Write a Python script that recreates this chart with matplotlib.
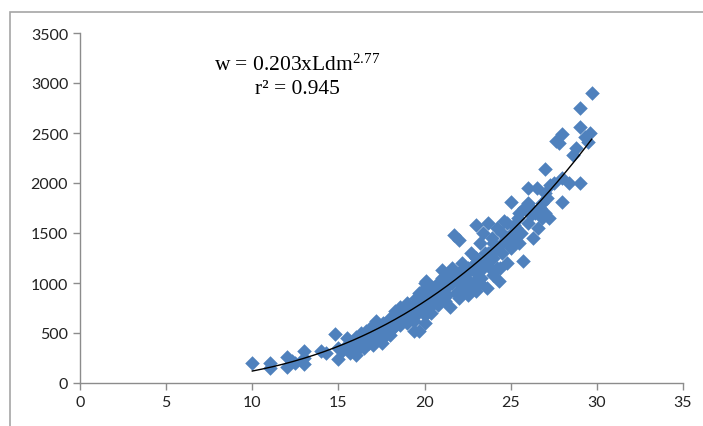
import numpy as np
import matplotlib
matplotlib.use("Agg")
import matplotlib.pyplot as plt
from matplotlib.patches import Rectangle

plt.rcParams["mathtext.fontset"] = "custom"
plt.rcParams["mathtext.rm"] = "Liberation Serif"
plt.rcParams["mathtext.it"] = "Liberation Serif"

# length (Ldm) and weight (w)
ldm = [10, 11, 11, 12, 12, 12.3, 12.5, 13, 13, 13, 14, 14.3,
       14.8, 15, 15, 15.2, 15.5, 15.7, 16, 16, 16, 16.2, 16.3,
       16.5, 16.5, 16.6, 16.8, 17, 17, 17, 17.2, 17.3, 17.5, 17.5, 17.6, 17.8, 18, 18, 18,
       18.2, 18.4, 18.5, 18.6, 18.8, 19, 19, 19, 19.2, 19.3, 19.4, 19.5, 19.6, 19.7, 19.7,
       19.8, 20, 20, 20, 20, 20,
       20.2, 20.3, 20.4, 20.5, 20.6, 20.8, 20.8, 21, 21, 21, 21.2, 21.3, 21.4, 21.5, 21.6,
       21.7, 21.8, 22, 22, 22, 22,
       22.2, 22.3, 22.4, 22.5, 22.5, 22.7, 22.8, 23, 23, 23, 23, 23.2, 23.3, 23.4, 23.5,
       23.5, 23.6, 23.7, 23.8, 24, 24, 24, 24.2, 24.3,
       24.5, 24.5, 24.6, 24.8, 25, 25, 25, 25.2, 25.4, 25.6, 25.7, 25.8, 26, 26, 26,
       26.3, 26.4, 26.5, 26.6, 26.8, 27, 27, 27, 27.2, 27.3, 27.5, 27.6, 27.8, 28, 28, 28,
       28.4, 28.6, 28.8, 29, 29, 29, 29.3, 29.5, 29.7, 29.6,
       18.3, 18.9, 19.1, 19.9, 20.1, 20.7, 20.9, 21.1, 21.4, 21.9, 22.1, 22.6, 22.9,
       23.1, 23.9, 24.1, 24.4, 24.7, 25.1, 25.3, 25.5, 26.2, 26.7, 27.1,
       15.5, 15.8, 16.1, 16.4, 16.7, 16.9, 17.1, 17.4, 17.7, 17.9, 18.1, 18.3, 18.6,
       18.7, 19.1, 19.4, 19.6, 19.9, 20.1, 20.3, 20.5, 20.7, 21.0, 21.2, 21.3, 21.6,
       21.8, 22.1, 22.3, 22.6, 22.9, 23.2, 23.4, 23.7, 23.9, 24.2, 24.5, 24.8, 25.2,
       25.5, 26.2, 26.8]
weight = [200, 200, 150, 160, 260, 220, 200, 320, 190, 250, 320, 300,
          490, 240, 350, 320, 380, 300, 370, 460, 280, 420, 500,
          350, 450, 520, 400, 380, 480, 560, 620, 450, 400, 520, 600, 550, 480, 600, 650,
          560, 700, 620, 760, 680, 600, 720, 800, 660, 750, 520, 850, 700, 520, 900,
          780, 600, 680, 820, 950, 1000,
          880, 760, 700, 950, 850, 1000, 780, 900, 1050, 1130, 820, 960, 1080, 760, 1150,
          1480, 900, 1000, 1430, 1100, 850,
          1200, 950, 1050, 1150, 880, 1300, 1000, 1100, 1580, 1250, 920, 1400, 1050, 1500, 1200,
          1300, 950, 1600, 1150, 1080, 1400, 1250, 1550, 1020,
          1300, 1500, 1620, 1200, 1810, 1450, 1350, 1580, 1650, 1500, 1220, 1750, 1600, 1950, 1800,
          1450, 1700, 1950, 1550, 1800, 2140, 1700, 1900, 1650, 1980, 2000, 2420, 2400, 2490, 1810, 2050,
          2000, 2280, 2350, 2000, 2560, 2750, 2460, 2410, 2900, 2500,
          640, 740, 780, 880, 900, 980, 920, 1000, 1020, 1060, 1080, 1120, 1150,
          1200, 1300, 1350, 1150, 1420, 1500, 1550, 1400, 1680, 1750, 1850,
          450, 400, 330, 390, 470, 560, 430, 520, 470, 620, 540, 720, 580,
          650, 690, 620, 800, 720, 1020, 900, 820, 880, 980, 1060, 880, 1000,
          1100, 920, 1150, 980, 1200, 1000, 1150, 1300, 1450, 1150, 1400, 1600, 1450,
          1700, 1750, 1650]

# fitted power curve w = a * Ldm^b
fit_a = 0.203
fit_b = 2.77
fit_range = [10, 29.7]

x_ticks = [0, 5, 10, 15, 20, 25, 30, 35]
y_ticks = [0, 500, 1000, 1500, 2000, 2500, 3000, 3500]

fig = plt.figure(figsize=(7.03, 4.27), dpi=100)
ax = fig.add_axes([80 / 703, 43 / 427, 603 / 703, 350 / 427])

ax.scatter(ldm, weight, marker="D", s=55, color="#4F81BD", linewidths=0, zorder=2)

xs = np.linspace(fit_range[0], fit_range[1], 200)
ax.plot(xs, fit_a * xs ** fit_b, color="black", lw=1.0, zorder=3)

ax.set_xlim(0, 35)
ax.set_ylim(0, 3500)
ax.set_xticks(x_ticks)
ax.set_yticks(y_ticks)
for s in ["top", "right"]:
    ax.spines[s].set_visible(False)
for s in ["left", "bottom"]:
    ax.spines[s].set_color("#8c8c8c")
    ax.spines[s].set_linewidth(1.0)
ax.tick_params(colors="#8c8c8c", length=5, width=1.0, labelcolor="#222222",
               labelsize=11.5)
for lab in ax.get_xticklabels() + ax.get_yticklabels():
    lab.set_family("Lato")

ax.text(12.6, 3190, r"w = 0.203xLdm$^{2.77}$", ha="center", va="center",
        fontsize=15.5, family="Liberation Serif")
ax.text(12.6, 2940, "r\u00b2 = 0.945", ha="center", va="center",
        fontsize=15.5, family="Liberation Serif")

# outer chart frame (only left and top edges visible in the crop)
fig.patches.append(Rectangle((10 / 703, -0.2), 1.0, 1.2 - 13 / 427,
                             transform=fig.transFigure, fill=False,
                             edgecolor="#a6a6a6", lw=1.2))

fig.savefig("out.png", dpi=100)
